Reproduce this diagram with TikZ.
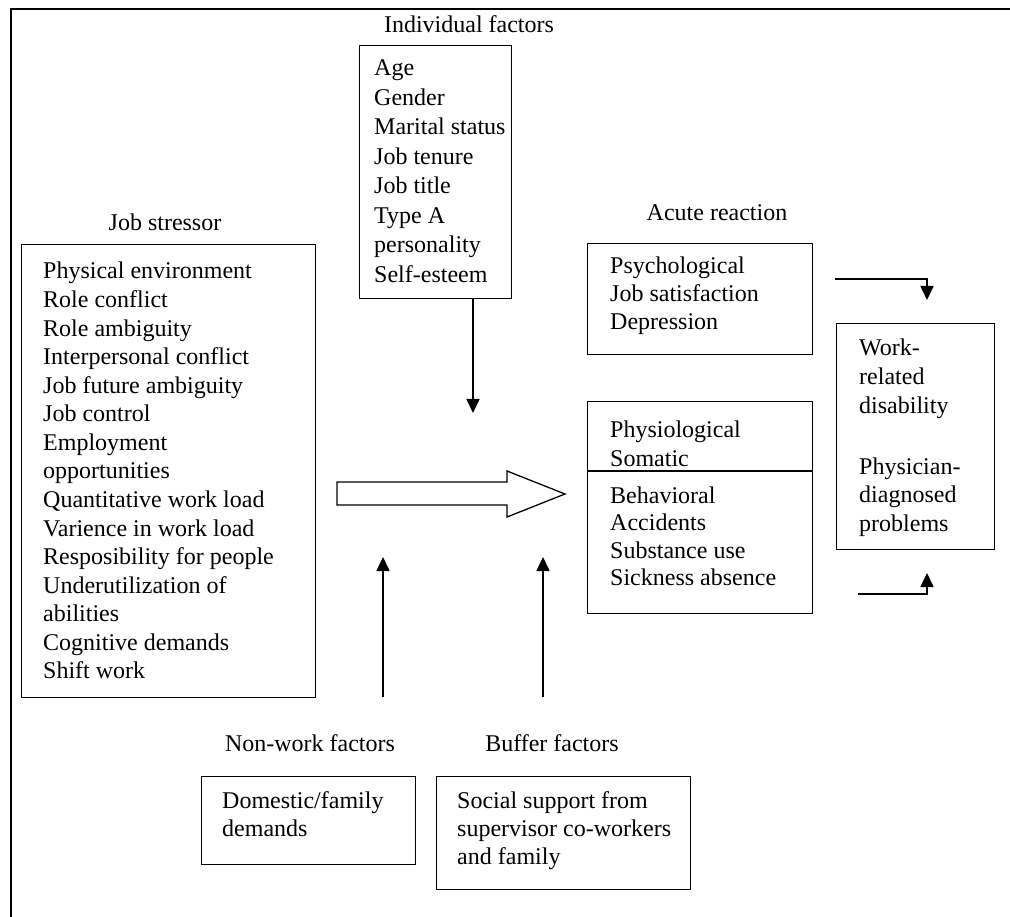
\documentclass[tikz,border=0pt]{standalone}
\usepackage{fontspec}
\setmainfont{Liberation Serif}
\usetikzlibrary{arrows.meta,calc}
\begin{document}
\begin{tikzpicture}[x=1pt,y=-1pt,
  every node/.style={font=\fontsize{24}{28}\selectfont, inner sep=0pt},
  box/.style={draw, line width=1.3pt, anchor=north west},
  txt/.style={anchor=base west},
  title/.style={anchor=base},
  conn/.style={line width=1.6pt, -{Triangle[length=14pt,width=13pt]}},
  frame/.style={line width=1.2pt}]
\useasboundingbox (0,0) rectangle (1010,917);

% outer frame (top and left edges only)
\coordinate (frBL) at (11,917);
\coordinate (frTL) at (11,9);
\coordinate (frTR) at (1010,9);
\draw[frame] (frBL) -- (frTL) -- (frTR);

% titles
\node[title] (tIndiv)  at (469,33)  {Individual factors};
\node[title] (tStress) at (165,231) {Job stressor};
\node[title] (tAcute)  at (717,221) {Acute reaction};
\node[title] (tNon)    at (310,751) {Non-work factors};
\node[title] (tBuf)    at (552,751) {Buffer factors};

% boxes
\node[box, minimum width=152pt, minimum height=253pt] (indiv)  at (359,45)  {};
\node[box, minimum width=294pt, minimum height=453pt] (stress) at (21,244)  {};
\node[box, minimum width=225pt, minimum height=111pt] (acute)  at (587,243) {};
\node[box, minimum width=225pt, minimum height=212pt] (physio) at (587,401) {};
\node[box, minimum width=158pt, minimum height=226pt] (disab)  at (836,323) {};
\node[box, minimum width=214pt, minimum height=88pt]  (dom)    at (201,776) {};
\node[box, minimum width=254pt, minimum height=113pt] (soc)    at (436,776) {};

% divider inside the physiological / behavioral box
\coordinate (divY) at (0,471);
\draw[line width=1.3pt] (physio.west |- divY) -- (physio.east |- divY);

% box contents
\foreach \t [count=\i from 0] in {Age,Gender,Marital status,Job tenure,Job title,Type A,personality,Self-esteem}
  \node[txt] (indiv-\i) at (374,76+\i*29.5) {\t};

\foreach \t [count=\i from 0] in {Physical environment,Role conflict,Role ambiguity,Interpersonal conflict,Job future ambiguity,Job control,Employment,opportunities,Quantitative work load,Varience in work load,Resposibility for people,Underutilization of,abilities,Cognitive demands,Shift work}
  \node[txt] (stress-\i) at (43,279+\i*28.57) {\t};

\foreach \t [count=\i from 0] in {Psychological,Job satisfaction,Depression}
  \node[txt] (acute-\i) at (610,274+\i*28) {\t};

\foreach \t [count=\i from 0] in {Physiological,Somatic}
  \node[txt] (phys-\i) at (610,438+\i*28) {\t};
\foreach \t [count=\i from 0] in {Behavioral,Accidents,Substance use,Sickness absence}
  \node[txt] (behav-\i) at (610,503+\i*27.5) {\t};

\foreach \t [count=\i from 0] in {Work-,related,disability}
  \node[txt] (dis-\i) at (859,356+\i*28.8) {\t};
\foreach \t [count=\i from 0] in {Physician-,diagnosed,problems}
  \node[txt] (phy-\i) at (859,474+\i*28.8) {\t};

\foreach \t [count=\i from 0] in {Domestic/family,demands}
  \node[txt] (dom-\i) at (222,808+\i*28) {\t};
\foreach \t [count=\i from 0] in {Social support from,supervisor co-workers,and family}
  \node[txt] (soc-\i) at (457,808+\i*28) {\t};

% hollow main arrow from stressors to reactions
\coordinate (mainTail) at (337,493.5);
\coordinate (mainTip)  at (565,494);
\draw[line width=1.3pt, fill=white]
  ($(mainTail)+(0,-11.5)$) -- (507,482) -- (507,471) -- (mainTip)
  -- (507,517) -- (507,505) -- ($(mainTail)+(0,11.5)$) -- cycle;

% moderator arrows
\coordinate (indivTip) at (473,413);
\draw[conn] (indiv.south -| indivTip) -- (indivTip);

\coordinate (nonBase) at (383,697);
\coordinate (nonTip)  at (383,557);
\draw[conn] (nonBase) -- (nonTip);

\coordinate (bufBase) at (543,697);
\coordinate (bufTip)  at (543,557);
\draw[conn] (bufBase) -- (bufTip);

% elbow arrows towards the disability box
\coordinate (upStart) at (835,279);
\coordinate (upTip)   at (927,300);
\draw[conn] (upStart) -| (upTip);

\coordinate (loStart) at (858,594);
\coordinate (loTip)   at (927,573);
\draw[conn] (loStart) -| (loTip);

\end{tikzpicture}
\end{document}
